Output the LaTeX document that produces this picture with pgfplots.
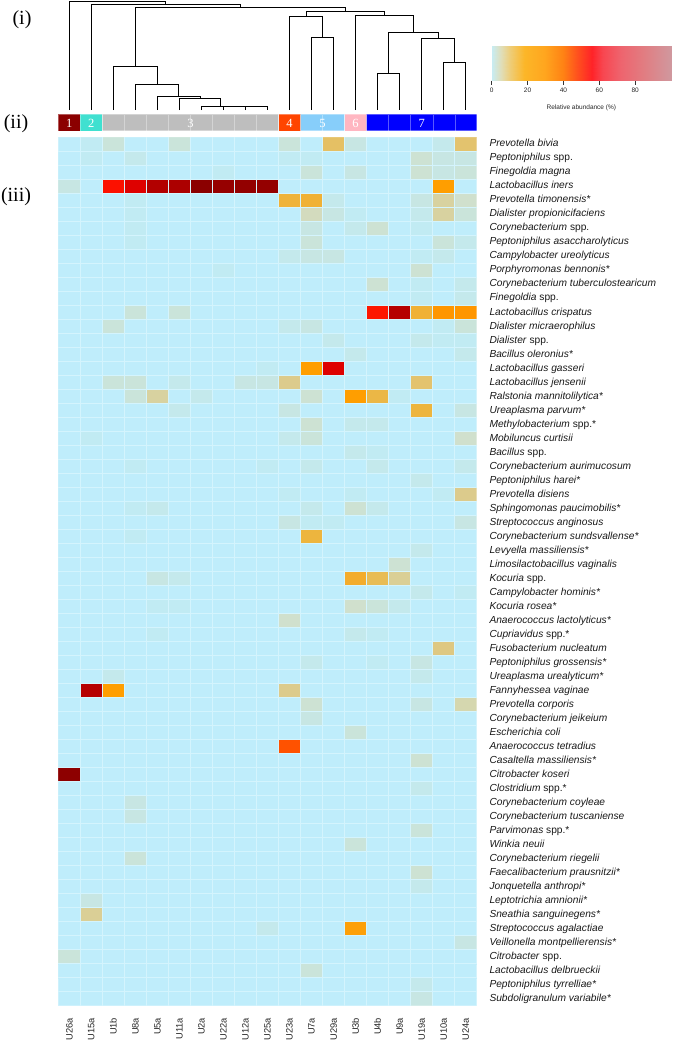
\documentclass[border=0pt]{standalone}
\usepackage{pgfplots}
\pgfplotsset{compat=1.18}
\usepackage{fontspec}
\setmainfont{Liberation Serif}
\setsansfont{Liberation Sans}

\definecolor{cA}{RGB}{139,0,0}
\definecolor{cB}{RGB}{64,224,208}
\definecolor{cC}{RGB}{190,190,190}
\definecolor{cD}{RGB}{255,69,0}
\definecolor{cE}{RGB}{135,206,250}
\definecolor{cF}{RGB}{255,182,193}
\definecolor{cG}{RGB}{0,0,255}
\definecolor{gridc}{RGB}{212,244,253}

\pgfplotsset{
  colormap={heat}{[1pt]
    rgb255(0pt)=(191,237,251) rgb255(2pt)=(196,233,236) rgb255(4pt)=(202,228,218)
    rgb255(6pt)=(208,224,205) rgb255(9pt)=(216,210,160) rgb255(12pt)=(222,200,130)
    rgb255(15pt)=(229,192,100) rgb255(20pt)=(237,181,62) rgb255(25pt)=(245,170,40)
    rgb255(30pt)=(255,158,0) rgb255(40pt)=(255,120,0) rgb255(45pt)=(255,82,0)
    rgb255(55pt)=(255,35,0) rgb255(60pt)=(250,5,0) rgb255(70pt)=(215,0,0)
    rgb255(80pt)=(178,0,0) rgb255(90pt)=(150,0,0) rgb255(100pt)=(135,0,0)},
  colormap={legendmap}{[1pt]
    rgb255(0pt)=(200,236,242) rgb255(5pt)=(224,222,185) rgb255(10pt)=(238,205,120)
    rgb255(18pt)=(252,182,40) rgb255(30pt)=(255,165,30) rgb255(40pt)=(255,130,20)
    rgb255(48pt)=(255,80,30) rgb255(56pt)=(255,35,40) rgb255(62pt)=(248,70,80)
    rgb255(72pt)=(238,100,110) rgb255(85pt)=(225,125,130) rgb255(100pt)=(208,152,158)},
  dendro/.style={black, solid, line width=0.7pt, mark=none},
  clbar/.style={ybar, bar width=1, bar shift=0pt, draw=white, draw opacity=0.35, line width=0.3pt, fill=#1},
}

\begin{document}
\begin{tikzpicture}
\useasboundingbox (0pt,0pt) rectangle (682pt,-1044pt);

% panel labels
\node[font=\fontsize{20}{24}\selectfont] at (22pt,-20pt) {(i)};
\node[font=\fontsize{20}{24}\selectfont] at (16pt,-124pt) {(ii)};
\node[font=\fontsize{20}{24}\selectfont] at (16pt,-197pt) {(iii)};

% dendrogram
\begin{axis}[at={(58.3pt,-110pt)}, anchor=south west, width=418.4pt, height=110pt,
  scale only axis, xmin=-0.5, xmax=18.5, ymin=0, ymax=110, hide axis, clip=false]
\addplot[dendro] coordinates {(8,0)(8,3.3)(9,3.3)(9,0)};
\addplot[dendro] coordinates {(7,0)(7,3.7)(8.5,3.7)(8.5,3.3)};
\addplot[dendro] coordinates {(6,0)(6,4)(7.75,4)(7.75,3.7)};
\addplot[dendro] coordinates {(5,0)(5,11.3)(6.875,11.3)(6.875,4)};
\addplot[dendro] coordinates {(4,0)(4,14)(5.9375,14)(5.9375,11.3)};
\addplot[dendro] coordinates {(3,0)(3,26)(4.96875,26)(4.96875,14)};
\addplot[dendro] coordinates {(2,0)(2,43.3)(3.984375,43.3)(3.984375,26)};
\addplot[dendro] coordinates {(11,0)(11,72.7)(12,72.7)(12,0)};
\addplot[dendro] coordinates {(10,0)(10,94)(11.5,94)(11.5,72.7)};
\addplot[dendro] coordinates {(14,0)(14,36.7)(15,36.7)(15,0)};
\addplot[dendro] coordinates {(17,0)(17,47.3)(18,47.3)(18,0)};
\addplot[dendro] coordinates {(16,0)(16,71.3)(17.5,71.3)(17.5,47.3)};
\addplot[dendro] coordinates {(14.5,36.7)(14.5,77.3)(16.75,77.3)(16.75,71.3)};
\addplot[dendro] coordinates {(13,0)(13,95)(15.625,95)(15.625,77.3)};
\addplot[dendro] coordinates {(10.75,94)(10.75,98.7)(14.3125,98.7)(14.3125,95)};
\addplot[dendro] coordinates {(2.9921875,43.3)(2.9921875,102.7)(12.53125,102.7)(12.53125,98.7)};
\addplot[dendro] coordinates {(1,0)(1,105.3)(7.76171875,105.3)(7.76171875,102.7)};
\addplot[dendro] coordinates {(0,0)(0,109)(4.380859375,109)(4.380859375,105.3)};
\end{axis}

% cluster bar
\begin{axis}[at={(58.3pt,-130.7pt)}, anchor=south west, width=418.4pt, height=16.7pt,
  scale only axis, xmin=-0.5, xmax=18.5, ymin=0, ymax=1, hide axis, clip=false]
\addplot[clbar=cA] coordinates {(0,1)};
\addplot[clbar=cB] coordinates {(1,1)};
\addplot[clbar=cC] coordinates {(2,1)(3,1)(4,1)(5,1)(6,1)(7,1)(8,1)(9,1)};
\addplot[clbar=cD] coordinates {(10,1)};
\addplot[clbar=cE] coordinates {(11,1)(12,1)};
\addplot[clbar=cF] coordinates {(13,1)};
\addplot[clbar=cG] coordinates {(14,1)(15,1)(16,1)(17,1)(18,1)};
\begin{scope}[every node/.style={text=white, font=\fontsize{12.5}{14}\selectfont, yshift=-1.5pt}]
\node at (axis cs:0,0.5) {1};
\node at (axis cs:1,0.5) {2};
\node at (axis cs:5.5,0.5) {3};
\node at (axis cs:10,0.5) {4};
\node at (axis cs:11.5,0.5) {5};
\node at (axis cs:13,0.5) {6};
\node at (axis cs:16,0.5) {7};
\end{scope}
\end{axis}

% colour key
\begin{axis}[at={(491.7pt,-80.7pt)}, anchor=south west, width=179.3pt, height=35pt,
  scale only axis, xmin=0, xmax=100, ymin=0, ymax=1, colormap name=legendmap,
  point meta min=0, point meta max=100, enlargelimits=false, clip=false,
  axis x line*=bottom, axis y line=none, axis line style={-, line width=0.5pt, black!80},
  xtick={0,20,40,60,80}, ytick=\empty, tick align=outside, major tick length=4pt,
  tick style={black!80, line width=0.5pt},
  xticklabel style={font=\sffamily\fontsize{6.5}{8}\selectfont, text=black!85},
  /pgf/number format/assume math mode=true,
  xlabel={Relative abundance (\%)},
  xlabel style={font=\sffamily\fontsize{6.5}{8}\selectfont, text=black!85, at={(axis description cs:0.5,0)}, anchor=north, inner sep=0pt, yshift=-23.5pt}]
\addplot[surf, shader=interp, mesh/cols=21, point meta=x] coordinates {
(0,0)(5,0)(10,0)(15,0)(20,0)(25,0)(30,0)(35,0)(40,0)(45,0)(50,0)(55,0)(60,0)(65,0)(70,0)(75,0)(80,0)(85,0)(90,0)(95,0)(100,0)
(0,1)(5,1)(10,1)(15,1)(20,1)(25,1)(30,1)(35,1)(40,1)(45,1)(50,1)(55,1)(60,1)(65,1)(70,1)(75,1)(80,1)(85,1)(90,1)(95,1)(100,1)};
\end{axis}

% heatmap
\begin{axis}[at={(58.3pt,-1005.7pt)}, anchor=south west, width=418.4pt, height=868.4pt,
  scale only axis, xmin=-0.5, xmax=18.5, ymin=-0.5, ymax=61.5, y dir=reverse,
  enlargelimits=false, colormap name=heat, point meta min=0, point meta max=100,
  axis line style={draw=none}, major tick length=0pt, minor tick length=0pt,
  minor xtick={0.5,1.5,...,17.5}, minor ytick={0.5,1.5,...,60.5},
  xminorgrids, yminorgrids, minor grid style={gridc, line width=0.5pt}, axis on top,
  xtick={0,...,18},
  xticklabels={U26a,U15a,U1b,U8a,U5a,U11a,U2a,U22a,U12a,U25a,U23a,U7a,U29a,U3b,U4b,U9a,U19a,U10a,U24a},
  xticklabel style={font=\sffamily\fontsize{9.3}{11}\selectfont, text=black!85, rotate=90, anchor=east, inner sep=0pt},
  xticklabel shift=12pt,
  ytick={0,...,61},
  yticklabel pos=right,
  yticklabel style={font=\sffamily\fontsize{10.2}{12}\selectfont, text=black!90, anchor=west, inner sep=0pt, text height=7.3pt, text depth=2.1pt},
  yticklabel shift=12.6pt,
  yticklabels={
    \textit{Prevotella bivia},
    \textit{Peptoniphilus} spp.,
    \textit{Finegoldia magna},
    \textit{Lactobacillus iners},
    \textit{Prevotella timonensis*},
    \textit{Dialister propionicifaciens},
    \textit{Corynebacterium} spp.,
    \textit{Peptoniphilus asaccharolyticus},
    \textit{Campylobacter ureolyticus},
    \textit{Porphyromonas bennonis*},
    \textit{Corynebacterium tuberculostearicum},
    \textit{Finegoldia} spp.,
    \textit{Lactobacillus crispatus},
    \textit{Dialister micraerophilus},
    \textit{Dialister} spp.,
    \textit{Bacillus oleronius*},
    \textit{Lactobacillus gasseri},
    \textit{Lactobacillus jensenii},
    \textit{Ralstonia mannitolilytica*},
    \textit{Ureaplasma parvum*},
    \textit{Methylobacterium} spp.*,
    \textit{Mobiluncus curtisii},
    \textit{Bacillus} spp.,
    \textit{Corynebacterium aurimucosum},
    \textit{Peptoniphilus harei*},
    \textit{Prevotella disiens},
    \textit{Sphingomonas paucimobilis*},
    \textit{Streptococcus anginosus},
    \textit{Corynebacterium sundsvallense*},
    \textit{Levyella massiliensis*},
    \textit{Limosilactobacillus vaginalis},
    \textit{Kocuria} spp.,
    \textit{Campylobacter hominis*},
    \textit{Kocuria rosea*},
    \textit{Anaerococcus lactolyticus*},
    \textit{Cupriavidus} spp.*,
    \textit{Fusobacterium nucleatum},
    \textit{Peptoniphilus grossensis*},
    \textit{Ureaplasma urealyticum*},
    \textit{Fannyhessea vaginae},
    \textit{Prevotella corporis},
    \textit{Corynebacterium jeikeium},
    \textit{Escherichia coli},
    \textit{Anaerococcus tetradius},
    \textit{Casaltella massiliensis*},
    \textit{Citrobacter koseri},
    \textit{Clostridium} spp.*,
    \textit{Corynebacterium coyleae},
    \textit{Corynebacterium tuscaniense},
    \textit{Parvimonas} spp.*,
    \textit{Winkia neuii},
    \textit{Corynebacterium riegelii},
    \textit{Faecalibacterium prausnitzii*},
    \textit{Jonquetella anthropi*},
    \textit{Leptotrichia amnionii*},
    \textit{Sneathia sanguinegens*},
    \textit{Streptococcus agalactiae},
    \textit{Veillonella montpellierensis*},
    \textit{Citrobacter} spp.,
    \textit{Lactobacillus delbrueckii},
    \textit{Peptoniphilus tyrrelliae*},
    \textit{Subdoligranulum variabile*}},
]
\addplot[matrix plot*, mesh/cols=19, point meta=explicit]
  table[row sep=\\, x expr={\coordindex-19*floor((\coordindex+0.5)/19)}, y expr={floor((\coordindex+0.5)/19)}, meta=c] {
c\\
0\\ 1\\ 4\\ 0\\ 0\\ 4\\ 0\\ 0\\ 0\\ 0\\ 4\\ 0\\ 15\\ 3\\ 0\\ 0\\ 0\\ 2\\ 14\\
0\\ 1\\ 0\\ 2\\ 0\\ 0\\ 0\\ 0\\ 0\\ 0\\ 1\\ 1\\ 0\\ 0\\ 0\\ 0\\ 5\\ 3\\ 3\\
0\\ 0\\ 0\\ 0\\ 0\\ 0\\ 0\\ 1\\ 0\\ 0\\ 0\\ 4\\ 0\\ 3\\ 0\\ 0\\ 5\\ 3\\ 4\\
3\\ 0\\ 58\\ 68\\ 80\\ 82\\ 97\\ 90\\ 92\\ 91\\ 0\\ 0\\ 0\\ 0\\ 0\\ 0\\ 0\\ 30\\ 0\\
0\\ 0\\ 0\\ 1\\ 0\\ 0\\ 0\\ 0\\ 0\\ 0\\ 21\\ 22\\ 2\\ 0\\ 0\\ 0\\ 3\\ 9\\ 6\\
0\\ 0\\ 0\\ 1\\ 0\\ 0\\ 0\\ 0\\ 0\\ 0\\ 0\\ 7\\ 3\\ 1\\ 0\\ 0\\ 2\\ 9\\ 4\\
0\\ 0\\ 0\\ 1\\ 0\\ 0\\ 0\\ 0\\ 0\\ 0\\ 0\\ 3\\ 0\\ 2\\ 5\\ 0\\ 1\\ 0\\ 0\\
0\\ 0\\ 0\\ 1\\ 0\\ 0\\ 0\\ 0\\ 0\\ 0\\ 0\\ 4\\ 0\\ 0\\ 0\\ 0\\ 0\\ 4\\ 2\\
0\\ 0\\ 0\\ 0\\ 0\\ 0\\ 0\\ 0\\ 0\\ 0\\ 2\\ 3\\ 3\\ 0\\ 0\\ 0\\ 1\\ 2\\ 0\\
0\\ 0\\ 0\\ 0\\ 0\\ 0\\ 0\\ 1\\ 0\\ 0\\ 0\\ 0\\ 0\\ 0\\ 0\\ 0\\ 5\\ 0\\ 0\\
0\\ 0\\ 0\\ 0\\ 0\\ 0\\ 0\\ 0\\ 0\\ 0\\ 0\\ 0\\ 0\\ 0\\ 5\\ 0\\ 1\\ 0\\ 2\\
0\\ 0\\ 0\\ 0\\ 0\\ 0\\ 0\\ 0\\ 0\\ 0\\ 0\\ 0\\ 0\\ 0\\ 0\\ 0\\ 1\\ 0\\ 2\\
0\\ 0\\ 0\\ 4\\ 0\\ 4\\ 0\\ 0\\ 0\\ 0\\ 0\\ 0\\ 0\\ 0\\ 57\\ 79\\ 22\\ 32\\ 32\\
0\\ 0\\ 4\\ 0\\ 0\\ 0\\ 0\\ 0\\ 0\\ 0\\ 2\\ 3\\ 0\\ 0\\ 0\\ 0\\ 0\\ 1\\ 4\\
0\\ 0\\ 0\\ 0\\ 0\\ 0\\ 0\\ 0\\ 0\\ 0\\ 0\\ 0\\ 2\\ 0\\ 0\\ 0\\ 2\\ 1\\ 1\\
0\\ 0\\ 0\\ 0\\ 0\\ 0\\ 0\\ 0\\ 0\\ 0\\ 0\\ 0\\ 0\\ 2\\ 0\\ 0\\ 0\\ 0\\ 2\\
0\\ 0\\ 0\\ 0\\ 0\\ 0\\ 0\\ 0\\ 0\\ 1\\ 0\\ 30\\ 68\\ 0\\ 0\\ 0\\ 0\\ 0\\ 0\\
0\\ 0\\ 4\\ 4\\ 0\\ 2\\ 0\\ 0\\ 3\\ 3\\ 11\\ 0\\ 0\\ 0\\ 0\\ 0\\ 14\\ 0\\ 0\\
0\\ 0\\ 0\\ 4\\ 9\\ 0\\ 2\\ 0\\ 0\\ 0\\ 0\\ 5\\ 0\\ 30\\ 19\\ 1\\ 0\\ 0\\ 0\\
0\\ 0\\ 0\\ 0\\ 0\\ 2\\ 0\\ 0\\ 0\\ 0\\ 3\\ 0\\ 0\\ 0\\ 0\\ 0\\ 20\\ 0\\ 3\\
0\\ 0\\ 0\\ 0\\ 0\\ 0\\ 0\\ 0\\ 0\\ 0\\ 0\\ 5\\ 0\\ 2\\ 2\\ 0\\ 0\\ 0\\ 0\\
0\\ 1\\ 0\\ 0\\ 0\\ 0\\ 0\\ 0\\ 0\\ 0\\ 2\\ 4\\ 0\\ 0\\ 0\\ 0\\ 0\\ 0\\ 6\\
0\\ 0\\ 0\\ 0\\ 0\\ 0\\ 0\\ 0\\ 0\\ 0\\ 0\\ 0\\ 0\\ 2\\ 1\\ 0\\ 0\\ 0\\ 0\\
0\\ 0\\ 0\\ 1\\ 0\\ 0\\ 0\\ 0\\ 0\\ 1\\ 0\\ 2\\ 0\\ 0\\ 2\\ 0\\ 0\\ 0\\ 2\\
0\\ 0\\ 0\\ 0\\ 0\\ 0\\ 0\\ 0\\ 0\\ 0\\ 0\\ 0\\ 0\\ 0\\ 0\\ 0\\ 2\\ 0\\ 0\\
0\\ 0\\ 0\\ 0\\ 0\\ 0\\ 0\\ 0\\ 0\\ 0\\ 1\\ 0\\ 0\\ 1\\ 0\\ 0\\ 0\\ 1\\ 11\\
0\\ 0\\ 0\\ 1\\ 2\\ 0\\ 0\\ 0\\ 0\\ 0\\ 0\\ 2\\ 0\\ 5\\ 2\\ 0\\ 0\\ 0\\ 0\\
0\\ 0\\ 0\\ 0\\ 0\\ 0\\ 0\\ 0\\ 0\\ 0\\ 3\\ 1\\ 1\\ 0\\ 0\\ 0\\ 0\\ 0\\ 3\\
0\\ 0\\ 0\\ 1\\ 0\\ 0\\ 0\\ 0\\ 0\\ 0\\ 0\\ 20\\ 0\\ 0\\ 0\\ 0\\ 0\\ 0\\ 0\\
0\\ 0\\ 0\\ 0\\ 0\\ 0\\ 0\\ 0\\ 0\\ 0\\ 0\\ 0\\ 0\\ 0\\ 0\\ 0\\ 2\\ 0\\ 0\\
0\\ 0\\ 0\\ 0\\ 0\\ 0\\ 0\\ 0\\ 0\\ 0\\ 0\\ 0\\ 0\\ 0\\ 0\\ 5\\ 0\\ 0\\ 0\\
0\\ 0\\ 0\\ 0\\ 3\\ 2\\ 0\\ 0\\ 0\\ 0\\ 0\\ 0\\ 0\\ 24\\ 17\\ 10\\ 0\\ 0\\ 0\\
0\\ 0\\ 0\\ 0\\ 0\\ 0\\ 0\\ 0\\ 0\\ 0\\ 0\\ 0\\ 0\\ 0\\ 0\\ 0\\ 2\\ 0\\ 1\\
0\\ 0\\ 0\\ 0\\ 1\\ 1\\ 0\\ 0\\ 0\\ 0\\ 0\\ 0\\ 0\\ 6\\ 4\\ 2\\ 0\\ 0\\ 0\\
0\\ 0\\ 0\\ 0\\ 0\\ 0\\ 0\\ 0\\ 0\\ 0\\ 6\\ 0\\ 0\\ 0\\ 0\\ 0\\ 0\\ 0\\ 0\\
0\\ 0\\ 0\\ 0\\ 1\\ 0\\ 0\\ 0\\ 0\\ 0\\ 0\\ 0\\ 0\\ 2\\ 1\\ 0\\ 0\\ 0\\ 0\\
0\\ 0\\ 0\\ 0\\ 0\\ 0\\ 0\\ 0\\ 0\\ 0\\ 0\\ 0\\ 0\\ 0\\ 0\\ 0\\ 0\\ 12\\ 0\\
0\\ 0\\ 0\\ 0\\ 0\\ 0\\ 0\\ 0\\ 0\\ 0\\ 0\\ 2\\ 0\\ 0\\ 1\\ 0\\ 3\\ 0\\ 0\\
0\\ 0\\ 2\\ 0\\ 0\\ 0\\ 0\\ 0\\ 0\\ 0\\ 0\\ 0\\ 0\\ 0\\ 0\\ 0\\ 2\\ 0\\ 0\\
0\\ 79\\ 30\\ 0\\ 0\\ 0\\ 0\\ 0\\ 0\\ 0\\ 11\\ 0\\ 0\\ 0\\ 0\\ 0\\ 0\\ 0\\ 0\\
0\\ 0\\ 0\\ 0\\ 0\\ 0\\ 0\\ 0\\ 0\\ 0\\ 0\\ 5\\ 0\\ 0\\ 0\\ 0\\ 3\\ 0\\ 8\\
0\\ 0\\ 0\\ 0\\ 0\\ 0\\ 0\\ 0\\ 0\\ 0\\ 0\\ 3\\ 0\\ 0\\ 0\\ 0\\ 0\\ 0\\ 0\\
0\\ 0\\ 0\\ 0\\ 0\\ 0\\ 0\\ 0\\ 0\\ 0\\ 0\\ 0\\ 0\\ 4\\ 0\\ 0\\ 0\\ 0\\ 0\\
0\\ 0\\ 0\\ 0\\ 0\\ 0\\ 0\\ 0\\ 0\\ 0\\ 45\\ 0\\ 0\\ 0\\ 0\\ 0\\ 0\\ 0\\ 0\\
0\\ 0\\ 0\\ 0\\ 0\\ 0\\ 0\\ 0\\ 0\\ 0\\ 0\\ 0\\ 0\\ 0\\ 0\\ 0\\ 5\\ 0\\ 0\\
96\\ 0\\ 0\\ 0\\ 0\\ 0\\ 0\\ 0\\ 0\\ 0\\ 0\\ 0\\ 0\\ 0\\ 0\\ 0\\ 0\\ 0\\ 0\\
0\\ 0\\ 0\\ 0\\ 0\\ 0\\ 0\\ 0\\ 0\\ 0\\ 0\\ 0\\ 0\\ 0\\ 0\\ 0\\ 2\\ 0\\ 0\\
0\\ 0\\ 0\\ 3\\ 0\\ 0\\ 0\\ 0\\ 0\\ 0\\ 0\\ 0\\ 0\\ 0\\ 0\\ 0\\ 0\\ 0\\ 0\\
0\\ 0\\ 0\\ 3\\ 0\\ 0\\ 0\\ 0\\ 0\\ 0\\ 0\\ 0\\ 0\\ 0\\ 0\\ 0\\ 0\\ 0\\ 0\\
0\\ 0\\ 0\\ 0\\ 0\\ 0\\ 0\\ 0\\ 0\\ 0\\ 0\\ 0\\ 0\\ 0\\ 0\\ 0\\ 4\\ 0\\ 0\\
0\\ 0\\ 0\\ 0\\ 0\\ 0\\ 0\\ 0\\ 0\\ 0\\ 0\\ 0\\ 0\\ 4\\ 0\\ 0\\ 0\\ 0\\ 0\\
0\\ 0\\ 0\\ 4\\ 0\\ 0\\ 0\\ 0\\ 0\\ 0\\ 0\\ 0\\ 0\\ 0\\ 0\\ 0\\ 0\\ 0\\ 0\\
0\\ 0\\ 0\\ 0\\ 0\\ 0\\ 0\\ 0\\ 0\\ 0\\ 0\\ 0\\ 0\\ 0\\ 0\\ 0\\ 5\\ 0\\ 0\\
0\\ 0\\ 0\\ 0\\ 0\\ 0\\ 0\\ 0\\ 0\\ 0\\ 0\\ 0\\ 0\\ 0\\ 0\\ 0\\ 2\\ 0\\ 0\\
0\\ 3\\ 0\\ 0\\ 0\\ 0\\ 0\\ 0\\ 0\\ 0\\ 0\\ 0\\ 0\\ 0\\ 0\\ 0\\ 0\\ 0\\ 0\\
0\\ 10\\ 0\\ 0\\ 0\\ 0\\ 0\\ 0\\ 0\\ 0\\ 0\\ 0\\ 0\\ 0\\ 0\\ 0\\ 0\\ 0\\ 0\\
0\\ 0\\ 0\\ 0\\ 0\\ 0\\ 0\\ 0\\ 0\\ 2\\ 0\\ 0\\ 0\\ 29\\ 0\\ 0\\ 0\\ 0\\ 0\\
0\\ 0\\ 0\\ 0\\ 0\\ 0\\ 0\\ 0\\ 0\\ 0\\ 0\\ 0\\ 0\\ 0\\ 0\\ 0\\ 0\\ 0\\ 3\\
4\\ 0\\ 0\\ 0\\ 0\\ 0\\ 0\\ 0\\ 0\\ 0\\ 0\\ 0\\ 0\\ 0\\ 0\\ 0\\ 0\\ 0\\ 0\\
0\\ 0\\ 0\\ 0\\ 0\\ 0\\ 0\\ 0\\ 0\\ 0\\ 0\\ 4\\ 0\\ 0\\ 0\\ 0\\ 0\\ 0\\ 0\\
0\\ 0\\ 0\\ 0\\ 0\\ 0\\ 0\\ 0\\ 0\\ 0\\ 0\\ 0\\ 0\\ 0\\ 0\\ 0\\ 2\\ 0\\ 0\\
0\\ 0\\ 0\\ 0\\ 0\\ 0\\ 0\\ 0\\ 0\\ 0\\ 0\\ 0\\ 0\\ 0\\ 0\\ 0\\ 3\\ 0\\ 0\\
};
\end{axis}
\end{tikzpicture}
\end{document}
